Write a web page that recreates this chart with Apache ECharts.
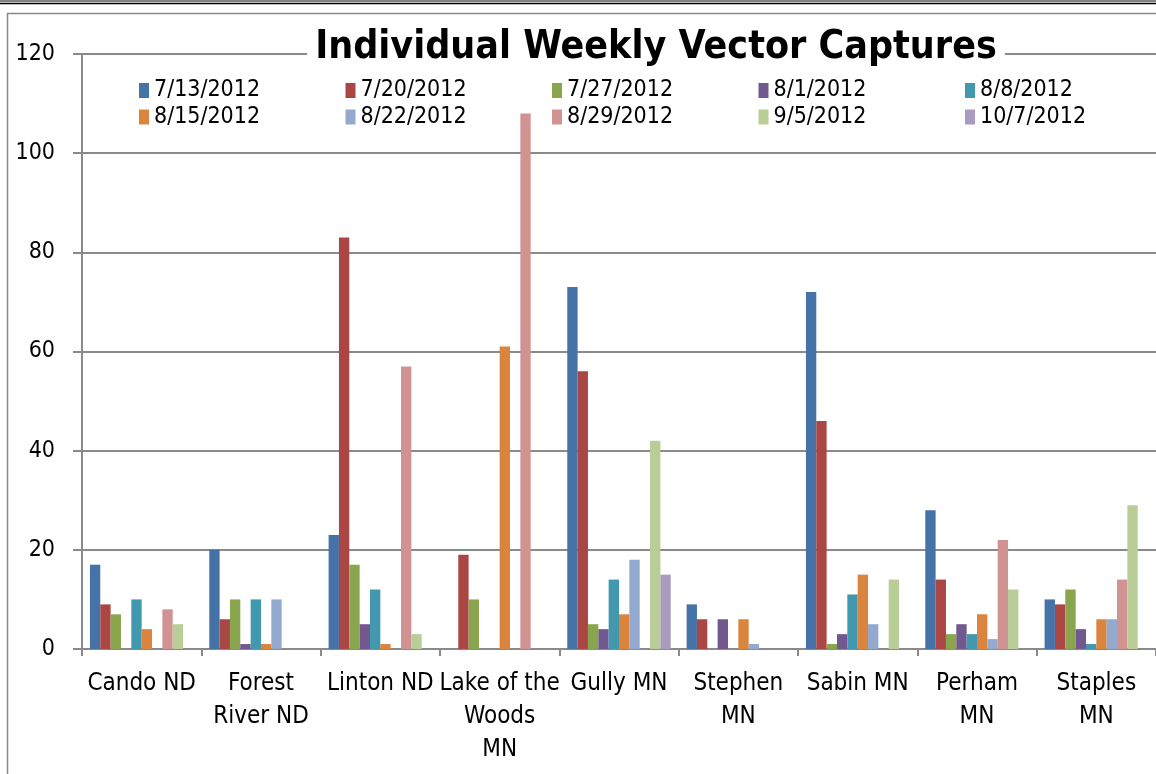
<!DOCTYPE html>
<html>
<head>
    <meta charset="utf-8">
    <title>Individual Weekly Vector Captures</title>
    <script src="https://cdn.jsdelivr.net/npm/echarts@6/dist/echarts.min.js"></script>
    <style>
        html, body { margin: 0; padding: 0; background: #fff; }
    </style>
</head>
<body>
    <div id="main" style="width: 1156px;height:774px;"></div>
    <script type="text/javascript">
        // sites (tick labels, wrapped like the original)
        var sites = ['Cando ND', 'Forest\nRiver ND', 'Linton ND', 'Lake of the\nWoods\nMN', 'Gully MN',
                     'Stephen\nMN', 'Sabin MN', 'Perham\nMN', 'Staples\nMN'];
        var weeks = ['7/13/2012', '7/20/2012', '7/27/2012', '8/1/2012', '8/8/2012',
                     '8/15/2012', '8/22/2012', '8/29/2012', '9/5/2012', '10/7/2012'];
        var colors = ['#4572A7', '#AA4643', '#89A54E', '#71588F', '#4198AF',
                      '#DB843D', '#93A9CF', '#D19392', '#B9CD96', '#A99BBD'];

        // captures per week, one value per site (null = no bar)
        var w0713 = [17, 20, 23, null, 73, 9, 72, 28, 10];
        var w0720 = [9, 6, 83, 19, 56, 6, 46, 14, 9];
        var w0727 = [7, 10, 17, 10, 5, null, 1, 3, 12];
        var w0801 = [null, 1, 5, null, 4, 6, 3, 5, 4];
        var w0808 = [10, 10, 12, null, 14, null, 11, 3, 1];
        var w0815 = [4, 1, 1, 61, 7, 6, 15, 7, 6];
        var w0822 = [null, 10, null, null, 18, 1, 5, 2, 6];
        var w0829 = [8, null, 57, 108, null, null, null, 22, 14];
        var w0905 = [5, null, 3, null, 42, null, 14, 12, 29];
        var w1007 = [null, null, null, null, 15, null, null, null, null];
        var values = [w0713, w0720, w0727, w0801, w0808, w0815, w0822, w0829, w0905, w1007];

        var yTicks = [0, 20, 40, 60, 80, 100, 120];

        var font = "'Liberation Sans Narrow', 'DejaVu Sans Condensed', sans-serif";
        var myChart = echarts.init(document.getElementById('main'));

        // one legend per entry so they line up in 5 columns like Excel
        var legends = weeks.map(function (w, i) {
            return {
                data: [w],
                left: 134 + (i % 5) * 206.5,
                top: 74 + Math.floor(i / 5) * 26.5,
                itemWidth: 10,
                itemHeight: 15,
                itemGap: 0,
                icon: 'rect',
                selectedMode: false,
                textStyle: { fontFamily: font, fontSize: 23, color: '#000' }
            };
        });

        var series = weeks.map(function (w, i) {
            return {
                name: w,
                type: 'bar',
                barGap: 0,
                barCategoryGap: '13.3%',
                itemStyle: { color: colors[i] },
                data: values[i]
            };
        });

        option = {
            animation: false,
            color: colors,
            title: {
                text: 'Individual Weekly Vector Captures',
                left: 648,
                top: 28,
                textAlign: 'center',
                backgroundColor: '#fff',
                padding: [0, 8],
                textStyle: { fontFamily: font, fontSize: 39, fontWeight: 'bold', color: '#000' }
            },
            legend: legends,
            grid: {
                left: 82,
                top: 54,
                width: 1082,
                height: 595
            },
            xAxis: {
                type: 'category',
                data: sites,
                axisLine: { lineStyle: { color: '#8a8a8a', width: 2 } },
                axisTick: { show: true, length: 7, lineStyle: { color: '#8a8a8a', width: 2 } },
                axisLabel: {
                    interval: 0,
                    margin: 18,
                    color: '#000',
                    fontFamily: font,
                    fontSize: 24,
                    lineHeight: 33
                }
            },
            yAxis: {
                type: 'value',
                min: yTicks[0],
                max: yTicks[yTicks.length - 1],
                interval: 20,
                axisLine: { show: true, lineStyle: { color: '#8a8a8a', width: 2 } },
                axisTick: { show: true, length: 9, lineStyle: { color: '#8a8a8a', width: 2 } },
                splitLine: { lineStyle: { color: '#8a8a8a', width: 2 } },
                axisLabel: {
                    margin: 27,
                    color: '#000',
                    fontFamily: font,
                    fontSize: 23
                }
            },
            graphic: [
                { type: 'line', silent: true, shape: { x1: 0, y1: 1, x2: 1156, y2: 1 }, style: { stroke: '#000', lineWidth: 1 } },
                { type: 'line', silent: true, shape: { x1: 0, y1: 3.5, x2: 1156, y2: 3.5 }, style: { stroke: '#000', lineWidth: 1.5 } },
                { type: 'rect', silent: true, z: -1, shape: { x: 7.5, y: 13.5, width: 1300, height: 900 }, style: { fill: 'none', stroke: '#8a8a8a', lineWidth: 1.5 } }
            ],
            series: series
        };
        myChart.setOption(option);
    </script>
</body>
</html>
